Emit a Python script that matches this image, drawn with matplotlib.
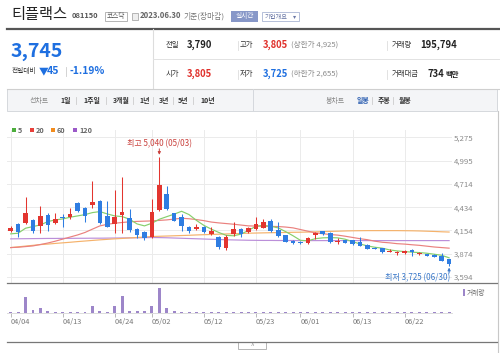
import matplotlib
matplotlib.use('Agg')
import matplotlib.pyplot as plt
from matplotlib.lines import Line2D
from matplotlib.patches import Rectangle
import numpy as np

plt.rcParams['font.family'] = ['Noto Sans CJK KR', 'DejaVu Sans']

# ---------------- data ----------------
dates = ['04/04','04/05','04/06','04/07','04/10','04/11','04/12','04/13','04/14','04/17',
         '04/18','04/19','04/20','04/21','04/24','04/25','04/26','04/27','04/28','05/02',
         '05/03','05/04','05/08','05/09','05/10','05/11','05/12','05/15','05/16','05/17',
         '05/18','05/19','05/22','05/23','05/24','05/25','05/26','05/30','05/31','06/01',
         '06/02','06/05','06/07','06/08','06/09','06/12','06/13','06/14','06/15','06/16',
         '06/19','06/20','06/21','06/22','06/23','06/26','06/27','06/28','06/29','06/30']
opens = [4152,4233,4249,4281,4209,4341,4249,4321,4321,4482,4422,4455,4509,4333,4229,4341,4301,4169,4133,4073,
         4401,4594,4361,4320,4201,4169,4201,4113,4073,3941,4109,4173,4133,4170,4185,4265,4155,4101,4032,4008,
         4000,4101,4145,4125,4012,4041,4035,4020,3980,3948,3941,3893,3882,3880,3915,3874,3872,3862,3850,3805]
highs = [4209,4241,4560,4293,4449,4369,4361,4353,4422,4494,4441,4753,4521,4509,4641,4794,4413,4181,4145,4530,
         5040,4694,4369,4349,4213,4233,4209,4201,4089,4101,4261,4181,4200,4311,4295,4293,4261,4105,4040,4025,
         4073,4141,4149,4133,4060,4045,4040,4080,3990,3952,3945,3925,3905,3920,3930,3895,3875,3865,3880,3805]
lows = [4141,4081,4233,4129,4121,4152,4233,4193,4293,4381,4261,4422,4233,4193,4121,4121,4141,4069,4041,4065,
        4393,4397,4265,4149,4121,4161,4121,4101,3936,3920,4085,4073,4121,4165,4181,4141,4081,4012,3990,3990,
        3995,4049,4105,4005,3995,4000,3985,3965,3925,3930,3880,3890,3860,3870,3845,3860,3845,3830,3785,3725]
closes = [4188,4141,4369,4152,4329,4221,4289,4305,4353,4393,4329,4497,4245,4201,4321,4373,4161,4101,4069,4373,
          4702,4409,4273,4210,4149,4193,4141,4149,3960,4073,4169,4109,4188,4231,4257,4145,4089,4020,4004,3998,
          4065,4125,4111,4012,4025,4008,3990,3969,3932,3935,3893,3910,3888,3910,3900,3888,3850,3834,3790,3745]
volumes = [180,200,3200,540,860,250,230,220,230,240,230,1340,260,240,1340,3400,380,260,250,1340,
           5000,860,260,230,170,150,150,150,200,180,160,150,150,160,170,160,160,150,150,120,
           120,120,150,120,100,100,160,150,110,100,100,90,90,100,110,90,90,100,120,196]
ma5 = [4113,4121,4181,4201,4221,4261,4281,4293,4313,4329,4345,4369,4381,4353,4329,4321,4289,4233,4209,4241,
       4289,4320,4350,4385,4345,4275,4215,4170,4130,4095,4090,4110,4155,4205,4215,4205,4185,4140,4090,4035,
       4030,4055,4065,4068,4065,4049,4020,3992,3968,3952,3941,3920,3908,3900,3893,3888,3880,3868,3855,3825]
ma20 = [3948,3952,3960,3968,3985,4003,4025,4050,4075,4100,4130,4170,4209,4228,4241,4250,4258,4263,4266,4269,
        4275,4281,4291,4301,4295,4285,4272,4255,4245,4237,4229,4219,4209,4207,4205,4203,4201,4195,4185,4165,
        4145,4125,4115,4105,4098,4085,4070,4055,4043,4025,4012,4005,3995,3990,3982,3975,3965,3955,3948,3941]
ma60 = [3948,3957,3966,3975,3984,3990,3998,4005,4012,4020,4027,4034,4041,4047,4053,4058,4064,4069,4075,4081,
        4084,4087,4090,4093,4096,4100,4103,4106,4109,4112,4115,4118,4121,4123,4125,4127,4128,4130,4132,4133,
        4135,4137,4140,4143,4145,4148,4150,4151,4152,4152,4152,4152,4152,4151,4150,4148,4145,4142,4138,4135]
ma120 = [4053,4054,4055,4056,4057,4058,4058,4059,4059,4060,4060,4061,4061,4062,4063,4064,4065,4066,4067,4069,
         4068,4066,4063,4060,4057,4054,4051,4048,4045,4042,4040,4038,4036,4035,4034,4034,4033,4033,4033,4032,
         4032,4032,4032,4032,4032,4032,4032,4032,4032,4032,4032,4032,4032,4032,4032,4032,4032,4032,4032,4032]
price_ticks = [3594, 3874, 4154, 4434, 4714, 4995, 5275]
price_labels = ['3,594', '3,874', '4,154', '4,434', '4,714', '4,995', '5,275']
date_ticks = ['04/04', '04/13', '04/24', '05/02', '05/12', '05/23', '06/01', '06/13', '06/22']
ma_names = ['5', '20', '60', '120']

# ---------------- figure ----------------
W, H = 500, 353
fig = plt.figure(figsize=(5, 3.53), dpi=100)
fig.patch.set_facecolor('white')

def T(x, y, s, size, color='#333333', weight='normal', ha='left', va='center'):
    fig.text(x / W, 1 - y / H, s, fontsize=size, color=color, fontweight=weight, ha=ha, va=va)

def L(x1, y1, x2, y2, color, lw):
    fig.add_artist(Line2D([x1 / W, x2 / W], [1 - y1 / H, 1 - y2 / H], color=color, lw=lw,
                          transform=fig.transFigure))

def R(x, y, w, h, fc, ec='none', lw=0.0):
    fig.add_artist(Rectangle((x / W, 1 - (y + h) / H), w / W, h / H, fc=fc, ec=ec, lw=lw,
                             transform=fig.transFigure))

# header
T(11, 15, '티플랙스', 11, '#222222')
T(72, 16, '081150', 5.4, '#555555', 'bold')
R(105, 11.5, 22, 9.5, 'white', '#aaaaaa', 0.6)
T(116, 16.3, '코스닥', 4.8, '#555555', ha='center')
R(132, 13, 5.5, 6.5, '#eeeeee', '#aaaaaa', 0.6)
T(140, 16, '2023.06.30', 5.6, '#666666', 'bold')
T(183, 16, '기준(장마감)', 5.6, '#777777')
R(231, 10.5, 27, 11, '#8797c8')
T(244.5, 16, '실시간', 4.8, 'white', ha='center')
R(262, 11.5, 37, 9.5, 'white', '#a9b5d3', 0.6)
T(265, 16.3, '기업개요', 4.5, '#6b78a6')
T(293, 16.3, '▾', 4.5, '#6b78a6')
L(7, 28.5, 499, 28.5, '#555555', 1.6)

# price summary
T(11, 51.5, '3,745', 14, '#1e6fe0', 'bold')
T(12, 71.5, '전일대비', 4.8, '#333333')
T(38.5, 71.5, '▼', 7.0, '#1e6fe0')
T(47, 71.5, '45', 7.6, '#1e6fe0', 'bold')
L(66, 67, 66, 76, '#cccccc', 0.6)
T(70, 71.5, '-1.19%', 7.4, '#1e6fe0', 'bold')
L(153, 29, 153, 88, '#dddddd', 0.8)
L(153, 59.3, 499, 59.3, '#e2e2e2', 0.7)
L(7, 88.5, 499, 88.5, '#cfcfcf', 0.8)

T(166, 45, '전일', 5.3, '#333333')
T(187, 45, '3,790', 6.8, '#222222', 'bold')
L(238, 40.5, 238, 49.5, '#dddddd', 0.6)
T(240, 45, '고가', 5.3, '#333333')
T(263, 45, '3,805', 6.8, '#e0302b', 'bold')
T(291, 45, '(상한가 4,925)', 5.5, '#8a8a8a')
L(387, 40.5, 387, 49.5, '#dddddd', 0.6)
T(392, 45, '거래량', 5.3, '#333333')
T(420, 45, '195,794', 6.8, '#222222', 'bold')

T(166, 74, '시가', 5.3, '#333333')
T(187, 74, '3,805', 6.8, '#e0302b', 'bold')
L(238, 69.5, 238, 78.5, '#dddddd', 0.6)
T(240, 74, '저가', 5.3, '#333333')
T(263, 74, '3,725', 6.8, '#1e6fe0', 'bold')
T(291, 74, '(하한가 2,655)', 5.5, '#8a8a8a')
L(387, 69.5, 387, 78.5, '#dddddd', 0.6)
T(392, 74, '거래대금', 5.3, '#333333')
T(428, 74, '734', 6.8, '#222222', 'bold')
T(445, 74, '백만', 5.3, '#222222', 'bold')

# tab bar
R(7, 89, 490, 22, '#f4f5f7', '#d5d8dd', 0.7)
L(253, 89, 253, 111, '#d5d8dd', 0.7)
T(30, 100.5, '선차트', 5.0, '#888888')
for xx, s in [(60, '1일'), (83, '1주일'), (113, '3개월'), (139, '1년'), (159, '3년'), (178, '5년'), (200, '10년')]:
    T(xx, 100.5, s, 5.0, '#333333', 'bold')
for xx in [76, 106, 133, 153, 173, 193]:
    L(xx, 96.5, xx, 104.5, '#cccccc', 0.6)
T(326, 100.5, '봉차트', 5.0, '#888888')
T(357, 100.5, '일봉', 5.0, '#2a5db0', 'bold')
L(372, 96.5, 372, 104.5, '#cccccc', 0.6)
T(378, 100.5, '주봉', 5.0, '#333333', 'bold')
L(393, 96.5, 393, 104.5, '#cccccc', 0.6)
T(399, 100.5, '월봉', 5.0, '#333333', 'bold')
L(497.5, 111, 497.5, 353, '#c8c8c8', 0.8)

# legend
leg_cols = ['#4cae3c', '#e8403a', '#f28c1e', '#9b59c8']
for xx, c, n in zip([12, 30, 51, 73], leg_cols, ma_names):
    R(xx, 128, 4, 4, c)
    T(xx + 6, 130.2, n, 5.2, '#666666', 'bold')

# ---------------- main chart ----------------
n = len(dates)
x = np.arange(n)
xlim = (-0.498, 59.39)
ax = fig.add_axes([7 / W, 1 - 283 / H, 445 / W, 153 / H])
ax.set_xlim(*xlim)
ax.set_ylim(3521.8, 5362.8)
for s in ax.spines.values():
    s.set_visible(False)
tick_idx = [dates.index(d) for d in date_ticks]
for t in price_ticks:
    ax.axhline(t, color='#ebebeb', lw=0.7, zorder=0)
for i in tick_idx:
    ax.axvline(i, color='#ebebeb', lw=0.7, zorder=0)

o = np.array(opens); c = np.array(closes); hi = np.array(highs); lo = np.array(lows)
up = c >= o
cols = np.where(up, '#e3352f', '#2f7de1')
ax.vlines(x, lo, hi, colors=cols, lw=0.75, zorder=3)
bottom = np.minimum(o, c)
height = np.maximum(np.abs(c - o), 12)
ax.bar(x, height, bottom=bottom, width=0.62, color=cols, lw=0, zorder=4)

ma_cols = ['#86cf6c', '#ea817e', '#f5b26b', '#bb8fd9']
for m, mc in zip([ma120, ma60, ma20, ma5], ma_cols[::-1]):
    ax.plot(x, m, color=mc, lw=0.85, zorder=2)

ax.yaxis.tick_right()
ax.set_yticks(price_ticks)
ax.set_yticklabels(price_labels, fontsize=5.6, color='#8a8a8a')
ax.tick_params(axis='y', length=0, pad=1.5)
ax.set_xticks([])

# annotations
px = 12.033
ih = int(np.argmax(hi))
ax.text(ih, hi[ih] + 13.2 * px, '최고 5,040 (05/03)', fontsize=5.8, color='#c9403c', ha='center', va='center', clip_on=False)
ax.annotate('', xy=(ih, hi[ih] + 2 * px), xytext=(ih, hi[ih] + 8 * px),
            arrowprops=dict(arrowstyle='-|>', color='#c9403c', lw=0.7, mutation_scale=4, shrinkA=0, shrinkB=0))
il = int(np.argmin(lo))
ax.text(il + 0.1, lo[il] - 12 * px, '최저 3,725 (06/30)', fontsize=5.8, color='#3a78c9', ha='right', va='center', clip_on=False)
ax.annotate('', xy=(il, lo[il] - 1.5 * px), xytext=(il, lo[il] - 7 * px),
            arrowprops=dict(arrowstyle='-|>', color='#3a78c9', lw=0.7, mutation_scale=4, shrinkA=0, shrinkB=0),
            annotation_clip=False)

# ---------------- volume ----------------
axv = fig.add_axes([7 / W, 1 - 312.7 / H, 445 / W, 29.4 / H])
axv.set_xlim(*xlim)
axv.set_ylim(0, 5880)
axv.bar(x, volumes, width=0.4, color='#9d86c9', lw=0)
for k, s in axv.spines.items():
    s.set_visible(k == 'bottom')
axv.spines['bottom'].set_color('#dcdcdc')
axv.spines['bottom'].set_linewidth(0.7)
axv.set_yticks([])
axv.set_xticks(tick_idx)
axv.set_xticklabels(date_ticks, fontsize=5.3, color='#777777')
for lab in axv.get_xticklabels():
    lab.set_ha('left')
axv.tick_params(axis='x', length=3, width=0.6, color='#b0b0b0', pad=1)

R(463, 289, 2, 7, '#9d86c9')
T(467, 292.5, '거래량', 4.8, '#666666')

L(7, 283.3, 497, 283.3, '#777777', 0.9)
L(7, 342.3, 497, 342.3, '#777777', 0.9)
R(238, 342.3, 28, 6.5, 'white', '#aaaaaa', 0.6)
T(252, 346.5, '^', 4.5, '#888888', ha='center')

fig.savefig('out.png', dpi=100, facecolor='white')
